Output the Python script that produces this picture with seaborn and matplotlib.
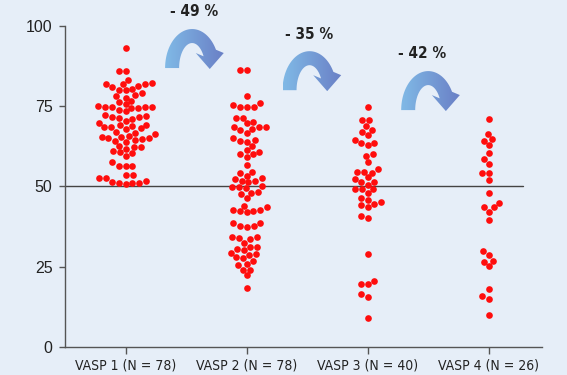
import numpy as np
import pandas as pd
import matplotlib
matplotlib.use("Agg")
import matplotlib.pyplot as plt
import seaborn as sns
from matplotlib.patches import Polygon
from matplotlib.colors import LinearSegmentedColormap

# -----------------------------
# Data
# -----------------------------
groups = ["VASP 1 (N = 78)", "VASP 2 (N = 78)", "VASP 3 (N = 40)", "VASP 4 (N = 26)"]

vasp1 = [93.2, 86.0, 86.0, 83.2, 81.9, 81.9, 81.9, 82.2,
         80.9, 80.2, 80.0, 80.4, 81.3, 78.5, 78.2, 79.2,
         77.7, 76.4, 76.7, 75.6, 75.1,
         74.9, 74.6, 74.6, 73.5, 73.8, 74.9, 74.8, 74.9,
         72.3, 72.0, 71.2, 70.5, 70.9, 71.7, 71.8, 69.9,
         69.3, 68.8, 68.5, 67.8, 67.1, 68.1, 68.6, 69.0,
         66.8, 66.3,
         65.8, 65.4, 65.1, 64.4, 64.0, 64.3, 64.7, 65.2, 65.5,
         62.4, 61.7, 60.6, 60.4, 61.1, 62.4, 62.7, 59.4,
         56.5, 57.5, 56.3, 56.5, 53.7, 53.7, 52.6, 52.6,
         51.5, 51.7, 50.8, 51.1, 51.2, 51.0]

vasp2 = [86.2, 86.2, 78.1,
         75.5, 74.8, 74.8, 74.9, 75.9, 71.4, 71.4,
         69.7, 68.5, 67.9, 67.5, 68.4, 68.6, 70.1, 66.6, 65.0,
         62.6, 64.5, 63.8, 64.2, 60.8, 60.0, 60.2, 61.3, 59.1,
         56.8, 54.3, 53.3, 54.6,
         52.6, 51.8, 51.3, 51.7, 52.3,
         49.8, 49.8, 50.0, 49.4, 48.4, 47.6, 46.5, 48.1,
         44.0, 42.6, 42.3, 42.1, 42.5, 42.7, 43.6,
         38.7, 37.7, 37.5, 37.8, 38.6,
         34.4, 33.9, 32.5, 33.5, 34.2,
         31.2, 30.1, 29.0, 28.8, 29.2, 30.4, 31.2,
         27.9, 26.9, 25.4, 25.9, 27.7, 24.1, 24.1, 22.3, 18.5]

vasp3 = [74.7, 70.8, 70.8, 68.9, 67.1, 67.6, 65.9,
         64.4, 63.4, 62.8, 63.6, 59.5, 60.0, 57.5, 55.6,
         54.3, 54.5, 54.5, 52.4, 52.8, 51.4, 51.4, 50.5,
         49.3, 49.3, 49.3, 48.0, 46.5,
         45.1, 44.6, 44.2, 45.7, 43.6, 40.1, 40.9,
         29.1, 20.6, 19.5, 19.6, 16.5, 15.7, 8.9]

vasp4 = [71.1, 66.5, 64.2, 64.7, 62.8, 60.5, 58.6, 57.1, 54.2, 54.3,
         51.9, 47.9, 43.5, 43.6, 44.8, 42.1, 39.6,
         30.0, 28.8, 26.9, 25.2, 26.6, 18.0, 15.8, 15.0, 9.9]

reductions = ["- 49 %", "- 35 %", "- 42 %"]

df = pd.DataFrame({
    "group": np.repeat(groups, [len(vasp1), len(vasp2), len(vasp3), len(vasp4)]),
    "value": vasp1 + vasp2 + vasp3 + vasp4,
})

# -----------------------------
# Plot
# -----------------------------
bg = "#e6eef8"
sns.set_style("ticks")
plt.rcParams["font.family"] = ["Liberation Sans", "DejaVu Sans"]

fig = plt.figure(figsize=(5.67, 3.75), dpi=100, facecolor=bg)
ax = fig.add_axes([0.1146, 0.0747, 0.8413, 0.856])
ax.set_facecolor(bg)

sns.swarmplot(x="group", y="value", data=df, order=groups, color="#ff0d0d",
              size=4.8, ax=ax, zorder=3)

ax.set_xlim(-0.5, 3.44)
ax.set_ylim(0, 100)
ax.axhline(50, xmin=0, xmax=(3.28 + 0.5) / 3.94, color="#444444", lw=1, zorder=1)

for s in ["top", "right"]:
    ax.spines[s].set_visible(False)
for s in ["left", "bottom"]:
    ax.spines[s].set_color("#555555")
    ax.spines[s].set_linewidth(1)

ax.set_yticks([0, 25, 50, 75, 100])
ax.tick_params(axis="y", length=4, width=1, color="#555555", labelsize=11.5,
               labelcolor="#222222", pad=5)
ax.tick_params(axis="x", length=5, width=1, color="#555555", labelsize=10,
               labelcolor="#222222", pad=3)
for lab in ax.get_xticklabels():
    lab.set_family("DejaVu Sans")
    lab.set_stretch("condensed")
ax.set_xlabel("")
ax.set_ylabel("")

# curved arrows between groups
arrow_cmap = LinearSegmentedColormap.from_list("arr", ["#80b9e6", "#6a80c6"])
sx = ax.transData.transform((1, 0))[0] - ax.transData.transform((0, 0))[0]
sy = ax.transData.transform((0, 1))[1] - ax.transData.transform((0, 0))[1]


def curved_arrow(cx, base):
    te = np.radians(28)
    th = np.linspace(np.pi, te, 60)
    outer = np.c_[27 * np.cos(th), 39 * np.sin(th)]
    inner = np.c_[13 * np.cos(th), 25 * np.sin(th)][::-1]
    xm, ym = 20 * np.cos(te), 32 * np.sin(te)
    head = np.array([[xm + 14, ym], [xm, ym - 16], [xm - 14, ym]])
    pts = np.vstack([outer, head, inner])
    pts = np.c_[cx + pts[:, 0] / sx, base + pts[:, 1] / sy]
    poly = Polygon(pts, closed=True, facecolor="none", edgecolor="none")
    ax.add_patch(poly)
    grad = np.linspace(0, 1, 100).reshape(1, -1)
    im = ax.imshow(grad, cmap=arrow_cmap, aspect="auto", zorder=4,
                   extent=[pts[:, 0].min(), pts[:, 0].max(), pts[:, 1].min(), pts[:, 1].max()])
    im.set_clip_path(poly)


arrow_x = [0.55, 1.52, 2.50]
arrow_base = [86.9, 80.0, 73.8]
label_pos = [(0.57, 104.4), (1.52, 97.5), (2.45, 91.3)]

for cx, b, txt, (tx, ty) in zip(arrow_x, arrow_base, reductions, label_pos):
    curved_arrow(cx, b)
    ax.text(tx, ty, txt, ha="center", va="center", fontsize=11, fontweight="bold",
            color="#222222", family="DejaVu Sans", fontstretch="condensed", clip_on=False)

ax.set_xlim(-0.5, 3.44)
ax.set_ylim(0, 100)

fig.savefig("out.png", dpi=100, facecolor=bg)
